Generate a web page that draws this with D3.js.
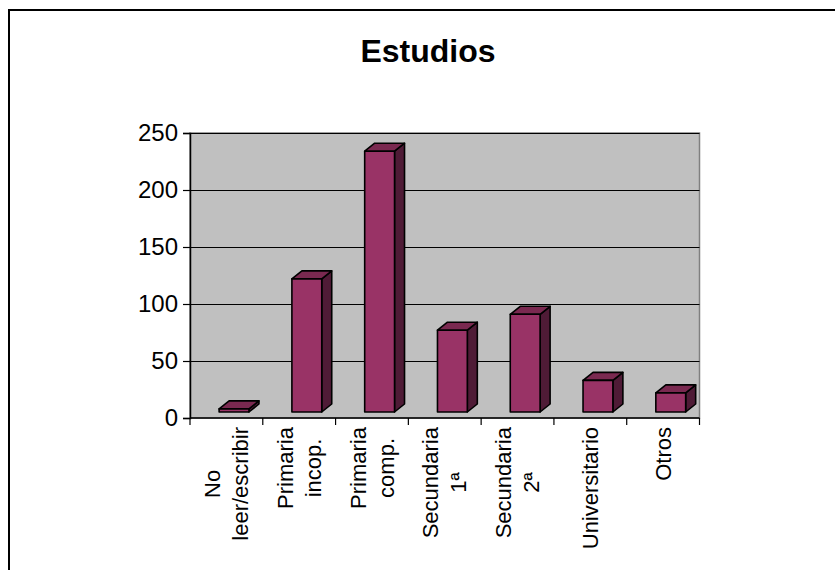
<!DOCTYPE html>
<html>
<head>
<meta charset="utf-8">
<script src="https://cdn.jsdelivr.net/npm/d3@7/dist/d3.min.js"></script>
<style>
  html, body { margin: 0; padding: 0; background: #fff; }
  svg { display: block; font-family: "Liberation Sans", Arial, sans-serif; }
</style>
</head>
<body>
<svg id="chart" width="835" height="570"></svg>
<script>
// Level of studies: category labels (line breaks as drawn) and counts
const categories = [
  "No leer/escribir",
  "Primaria incop.",
  "Primaria comp.",
  "Secundaria 1ª",
  "Secundaria 2ª",
  "Universitario",
  "Otros"
];
const categoryLines = [
  ["No", "leer/escribir"],
  ["Primaria", "incop."],
  ["Primaria", "comp."],
  ["Secundaria", "1ª"],
  ["Secundaria", "2ª"],
  ["Universitario"],
  ["Otros"]
];
const values = [8, 122, 234, 77, 91, 33, 22];
const yTicks = [0, 50, 100, 150, 200, 250];
const title = "Estudios";

const svg = d3.select("#chart");

// Layout
const plot = { left: 190, right: 699.5, top: 133, bottom: 418 };
const depth = { dx: 10, dy: 8 };   // 3-D extrusion of the columns
const lift = 6;                    // columns float slightly above the floor

const x = d3.scaleBand().domain(categories).range([plot.left, plot.right]).padding(0);
const y = d3.scaleLinear().domain([0, 250]).range([plot.bottom, plot.top]);

// Outer chart frame (left and top edges fall inside the canvas)
svg.append("path")
  .attr("d", `M9,570 V10 H835`)
  .attr("fill", "none")
  .attr("stroke", "#000")
  .attr("stroke-width", 2);

// Title
svg.append("text")
  .attr("x", 428)
  .attr("y", 61.5)
  .attr("text-anchor", "middle")
  .attr("font-size", 32)
  .attr("font-weight", "bold")
  .attr("fill", "#000")
  .text(title);

// Plot wall
svg.append("rect")
  .attr("x", plot.left)
  .attr("y", plot.top)
  .attr("width", plot.right - plot.left)
  .attr("height", plot.bottom - plot.top)
  .attr("fill", "#c0c0c0")
  .attr("stroke", "#808080")
  .attr("stroke-width", 1.5);

// Horizontal gridlines
svg.append("g")
  .selectAll("line")
  .data(yTicks.filter(t => t > 0))
  .join("line")
  .attr("x1", plot.left)
  .attr("x2", plot.right)
  .attr("y1", d => Math.round(y(d)) + 0.5)
  .attr("y2", d => Math.round(y(d)) + 0.5)
  .attr("stroke", "#000")
  .attr("stroke-width", 1);

// Value axis
const yAxis = d3.axisLeft(y).tickValues(yTicks).tickSize(7).tickPadding(5).tickFormat(d3.format("d"));
const gy = svg.append("g").attr("transform", `translate(${plot.left},0)`).call(yAxis);
gy.select(".domain").attr("stroke", "#000").attr("stroke-width", 1.5);
gy.selectAll(".tick line").attr("stroke", "#000").attr("stroke-width", 1.2);
gy.selectAll(".tick text")
  .attr("font-size", 24)
  .attr("font-family", "'Liberation Sans', Arial, sans-serif")
  .attr("fill", "#000");

// Category axis (ticks on band boundaries)
const gx = svg.append("g");
gx.append("line")
  .attr("x1", plot.left).attr("x2", plot.right)
  .attr("y1", plot.bottom).attr("y2", plot.bottom)
  .attr("stroke", "#000").attr("stroke-width", 1.5);
const boundaries = categories.map(c => x(c)).concat([x(categories[categories.length - 1]) + x.bandwidth()]);
gx.selectAll("line.tick")
  .data(boundaries)
  .join("line")
  .attr("class", "tick")
  .attr("x1", d => d).attr("x2", d => d)
  .attr("y1", plot.bottom).attr("y2", plot.bottom + 7)
  .attr("stroke", "#000").attr("stroke-width", 1.2);

// Columns
const bw = x.bandwidth();
const frontW = bw * 0.41;
const frontOffset = bw * 0.5 - bw * 0.1;   // front face starts a little left of centre

const bars = svg.append("g")
  .selectAll("g")
  .data(categories.map((c, i) => ({ c, v: values[i] })))
  .join("g");

bars.each(function(d) {
  const g = d3.select(this);
  const x0 = x(d.c) + frontOffset;
  const x1 = x0 + frontW;
  const yt = y(d.v);
  const yb = y(0) - lift;
  const { dx, dy } = depth;
  // side face
  g.append("path")
    .attr("d", `M${x1},${yt} L${x1 + dx},${yt - dy} L${x1 + dx},${yb - dy} L${x1},${yb} Z`)
    .attr("fill", "#4f1b36");
  // top face
  g.append("path")
    .attr("d", `M${x0},${yt} L${x0 + dx},${yt - dy} L${x1 + dx},${yt - dy} L${x1},${yt} Z`)
    .attr("fill", "#7a2950");
  // front face
  g.append("rect")
    .attr("x", x0).attr("y", yt)
    .attr("width", frontW).attr("height", Math.max(0, yb - yt))
    .attr("fill", "#993366");
  g.selectAll("path, rect")
    .attr("stroke", "#000")
    .attr("stroke-width", 1.6)
    .attr("stroke-linejoin", "round");
});

// Category labels, rotated, lines centred on each other and hung from the axis
const labelTop = 427;
const lineGap = 28;
const measure = svg.append("text").attr("font-size", 22).attr("visibility", "hidden");
categoryLines.forEach((lines, i) => {
  const cx = x(categories[i]) + bw / 2;
  const maxLen = d3.max(lines, l => { measure.text(l); return measure.node().getComputedTextLength(); });
  const cy = labelTop + maxLen / 2;
  lines.forEach((line, j) => {
    const lx = cx + (j - (lines.length - 1) / 2) * lineGap;
    svg.append("text")
      .attr("transform", `translate(${lx},${cy}) rotate(-90)`)
      .attr("text-anchor", "middle")
      .attr("dy", "0.35em")
      .attr("font-size", 22)
      .attr("fill", "#000")
      .text(line);
  });
});
measure.remove();
</script>
</body>
</html>
